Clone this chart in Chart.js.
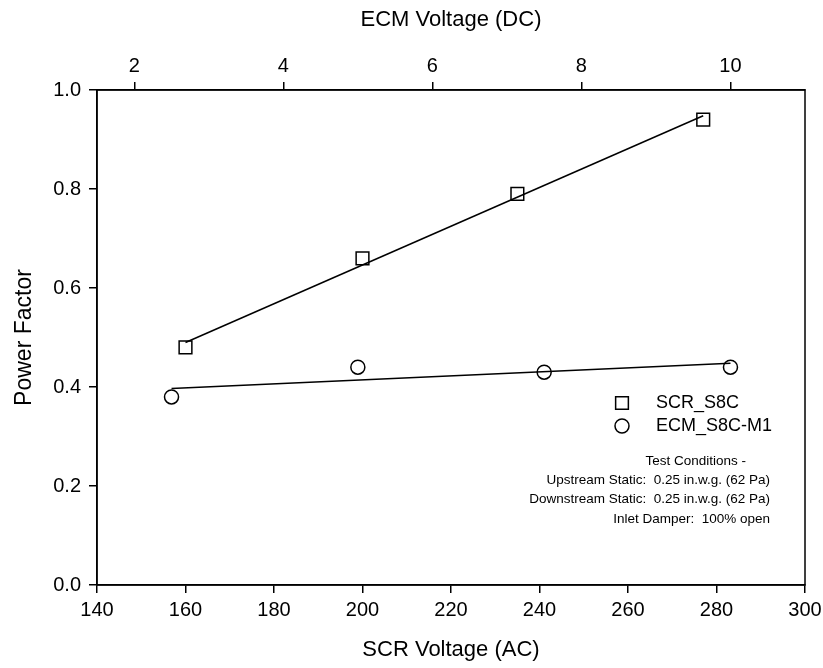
<!DOCTYPE html>
<html>
<head>
<meta charset="utf-8">
<title>Power Factor vs Voltage</title>
<script src="https://cdn.jsdelivr.net/npm/chart.js@4.4.0/dist/chart.umd.min.js"></script>
<style>
  html, body { margin: 0; padding: 0; background: #fff; }
  #wrap { width: 823px; height: 668px; }
</style>
</head>
<body>
<div id="wrap"><canvas id="chart" width="823" height="668"></canvas></div>
<script>
// SCR_S8C (bottom axis, AC volts)
const scrVoltage = [160, 200, 235, 277];
const scrPowerFactor = [0.48, 0.66, 0.79, 0.94];
// ECM_S8C-M1 (top axis, DC volts)
const ecmVoltage = [2.5, 5, 7.5, 10];
const ecmPowerFactor = [0.38, 0.44, 0.43, 0.44];
// fit lines, endpoints
const scrFitX = [160, 277];
const scrFitY = [0.49, 0.948];
const ecmFitX = [2.5, 10];
const ecmFitY = [0.397, 0.448];
// tick labels
const scrTicks = [140, 160, 180, 200, 220, 240, 260, 280, 300];
const ecmTicks = [2, 4, 6, 8, 10];
const pfTicks = [0, 0.2, 0.4, 0.6, 0.8, 1.0];
const legendLabels = ['SCR_S8C', 'ECM_S8C-M1'];
const noteLines = [
  'Test Conditions -',
  'Upstream Static:  0.25 in.w.g. (62 Pa)',
  'Downstream Static:  0.25 in.w.g. (62 Pa)',
  'Inlet Damper:  100% open'
];

const FONT = "'Liberation Sans', Arial, sans-serif";
const toPoints = (xs, ys) => xs.map((x, i) => ({ x, y: ys[i] }));
const useTicks = (list) => (scale) => { scale.ticks = list.map(v => ({ value: v })); };
// fixed box height, no extra room for overhanging end labels
const fixHeight = (h) => (s) => { s.height = h; s.paddingLeft = 0; s.paddingRight = 0; };

// frame round the plot area
const framePlugin = {
  id: 'frame',
  afterDatasetsDraw(chart) {
    const { ctx, chartArea: a } = chart;
    ctx.save();
    ctx.strokeStyle = '#000';
    ctx.lineWidth = 1.5;
    ctx.strokeRect(a.left, a.top, a.right - a.left, a.bottom - a.top);
    ctx.restore();
  }
};

// legend and test conditions inside the plot
const notesPlugin = {
  id: 'notes',
  afterDraw(chart) {
    const ctx = chart.ctx;
    ctx.save();
    ctx.strokeStyle = '#000';
    ctx.lineWidth = 1.5;
    const styles = [
      { pointStyle: 'rect', radius: 9, rotation: 0, borderWidth: 1.5 },
      { pointStyle: 'circle', radius: 7, rotation: 0, borderWidth: 1.5 }
    ];
    ctx.font = '18px ' + FONT;
    ctx.textBaseline = 'middle';
    legendLabels.forEach((label, i) => {
      const y = 403 + i * 23;
      ctx.fillStyle = 'rgba(0,0,0,0)';
      Chart.helpers.drawPoint(ctx, styles[i], 622, y);
      ctx.fillStyle = '#000';
      ctx.textAlign = 'left';
      ctx.fillText(label, 656, y);
    });
    ctx.font = '13.5px ' + FONT;
    ctx.textAlign = 'right';
    noteLines.forEach((line, i) => {
      ctx.fillText(line, i === 0 ? 746 : 770, 461 + i * 19.3);
    });
    ctx.restore();
  }
};

const axisCommon = {
  border: { display: true, color: '#000', width: 1.5 },
  grid: { display: true, drawOnChartArea: false, drawTicks: true, tickLength: 8, color: '#000', lineWidth: 1.5 },
};

new Chart(document.getElementById('chart'), {
  type: 'scatter',
  data: {
    datasets: [
      {
        label: legendLabels[0],
        data: toPoints(scrVoltage, scrPowerFactor),
        xAxisID: 'x', yAxisID: 'y',
        pointStyle: 'rect', pointRadius: 9,
        borderColor: '#000', backgroundColor: 'rgba(0,0,0,0)', borderWidth: 1.5,
        showLine: false
      },
      {
        label: legendLabels[1],
        data: toPoints(ecmVoltage, ecmPowerFactor),
        xAxisID: 'x2', yAxisID: 'y',
        pointStyle: 'circle', pointRadius: 7,
        borderColor: '#000', backgroundColor: 'rgba(0,0,0,0)', borderWidth: 1.5,
        showLine: false
      },
      {
        label: 'SCR fit',
        data: toPoints(scrFitX, scrFitY),
        xAxisID: 'x', yAxisID: 'y',
        showLine: true, pointRadius: 0, borderColor: '#000', borderWidth: 1.5
      },
      {
        label: 'ECM fit',
        data: toPoints(ecmFitX, ecmFitY),
        xAxisID: 'x2', yAxisID: 'y',
        showLine: true, pointRadius: 0, borderColor: '#000', borderWidth: 1.5
      }
    ]
  },
  options: {
    responsive: false,
    animation: false,
    layout: { padding: { left: 0, right: 18, top: 0, bottom: 0 } },
    plugins: { legend: { display: false }, tooltip: { enabled: false } },
    scales: {
      x: {
        ...axisCommon,
        type: 'linear', position: 'bottom', min: 140, max: 300,
        afterBuildTicks: useTicks(scrTicks),
        afterFit: fixHeight(83),
        ticks: { color: '#000', font: { family: FONT, size: 20 }, padding: 5, maxRotation: 0, autoSkip: false },
        title: { display: true, text: 'SCR Voltage (AC)', color: '#000', font: { family: FONT, size: 22 }, padding: { top: 0, bottom: 5 } }
      },
      x2: {
        ...axisCommon,
        type: 'linear', position: 'top', min: 1.5, max: 11,
        afterBuildTicks: useTicks(ecmTicks),
        afterFit: fixHeight(90),
        ticks: { color: '#000', font: { family: FONT, size: 20 }, padding: 4, maxRotation: 0, autoSkip: false },
        title: { display: true, text: 'ECM Voltage (DC)', color: '#000', font: { family: FONT, size: 22 }, padding: { top: 7, bottom: 0 } }
      },
      y: {
        ...axisCommon,
        type: 'linear', position: 'left', min: 0, max: 1,
        afterBuildTicks: useTicks(pfTicks),
        afterFit: (s) => { s.width = 97; s.paddingTop = 0; s.paddingBottom = 0; },
        ticks: { color: '#000', font: { family: FONT, size: 20 }, padding: 8, callback: (v) => v.toFixed(1) },
        title: { display: true, text: 'Power Factor', color: '#000', font: { family: FONT, size: 23 }, padding: { top: 11, bottom: 0 } }
      }
    }
  },
  plugins: [framePlugin, notesPlugin]
});
</script>
</body>
</html>
